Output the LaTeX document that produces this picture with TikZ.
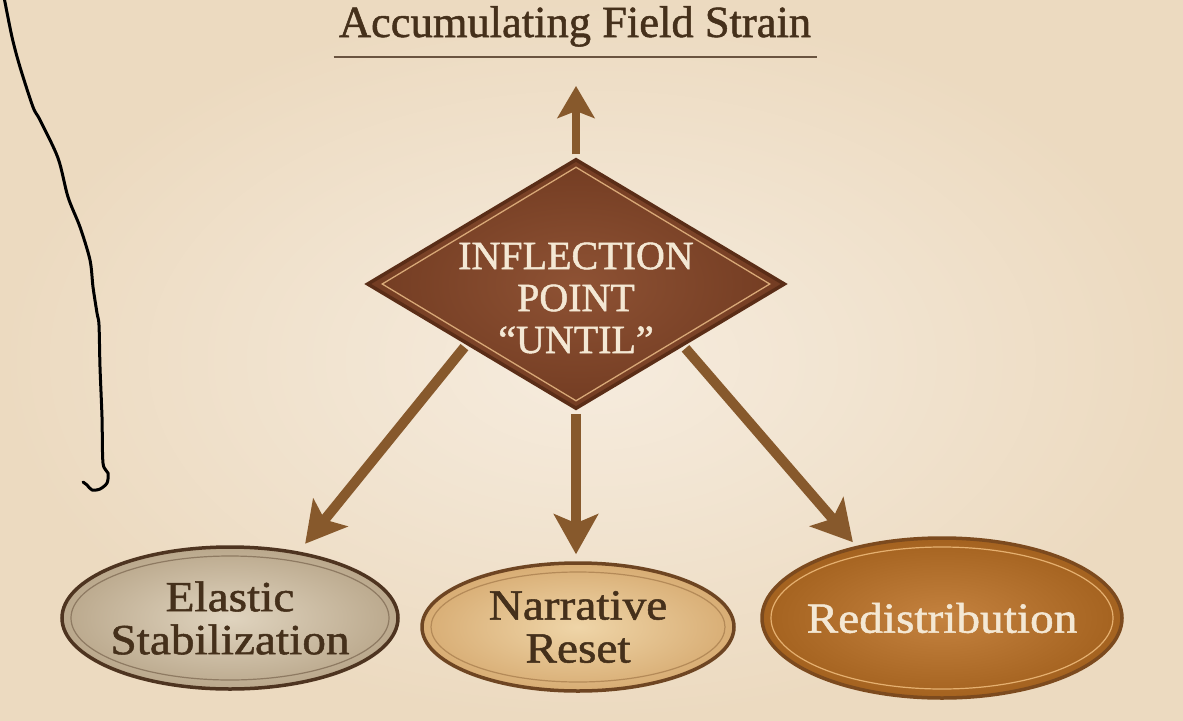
\documentclass[tikz,border=0pt]{standalone}
\usepackage{fontspec}
\setmainfont{Liberation Serif}
\newfontfamily\heavyfont[FakeBold=1.2]{Liberation Serif}
\newfontfamily\ovalfont[FakeStretch=1.1,FakeBold=1.2]{Liberation Serif}
\usetikzlibrary{shapes.geometric,arrows.meta,calc}

\definecolor{paperlight}{HTML}{F6ECDE}
\definecolor{paperdark}{HTML}{ECDAC0}
\definecolor{ink}{HTML}{45301B}
\definecolor{rulecol}{HTML}{6A5440}
\definecolor{cream}{HTML}{F4E8D4}
\definecolor{arrowbrown}{HTML}{87592C}
\definecolor{diacenter}{HTML}{8E5234}
\definecolor{diafill}{HTML}{733C22}
\definecolor{diaedge}{HTML}{5A2D17}
\definecolor{dialine}{HTML}{D8A877}
\definecolor{grayfill}{HTML}{E0D4BF}
\definecolor{grayedge}{HTML}{BAA88C}
\definecolor{grayline}{HTML}{8E7A62}
\definecolor{grayborder}{HTML}{4E3420}
\definecolor{tanfill}{HTML}{EFD5A8}
\definecolor{tanedge}{HTML}{D8AD74}
\definecolor{tanline}{HTML}{B48A58}
\definecolor{tanborder}{HTML}{6E4522}
\definecolor{orangefill}{HTML}{C4823F}
\definecolor{orangeedge}{HTML}{A4621F}
\definecolor{orangeline}{HTML}{E5B070}
\definecolor{orangeborder}{HTML}{7C4A1E}

\begin{document}
\begin{tikzpicture}[x=1pt,y=-1pt,
    flow/.style={draw=arrowbrown, line width=10pt,
      -{Stealth[length=40pt,width=44pt,inset=9pt]}},
    oval/.style={ellipse, shade, line width=3.5pt, inner xsep=-20pt, inner ysep=0pt,
      align=center, font=\ovalfont\fontsize{43pt}{43pt}\selectfont},
    ovalline/.style={line width=1.2pt}]

  \useasboundingbox (0,0) rectangle (1183,720);
  \shade[inner color=paperlight, outer color=paperdark] (0,0) rectangle (1183,720);

  % title
  \node[font=\heavyfont\fontsize{44.5pt}{50pt}\selectfont, text=ink, inner sep=0pt, anchor=base]
    (title) at (575,37) {Accumulating Field Strain};
  \draw[rulecol, line width=1.8pt] ([xshift=-5pt,yshift=-10pt]title.south west)
    -- ([xshift=6pt,yshift=-10pt]title.south east);
  \coordinate (strain) at (576,86);

  % diamond
  \node[diamond, draw=diaedge, line width=3.5pt, shade, inner color=diacenter,
    outer color=diafill, minimum width=418pt, minimum height=250pt, inner sep=0pt]
    (infl) at (576,284) {};
  \draw[dialine, line width=1.3pt] ($(infl.north)+(0,10)$) -- ($(infl.east)+(-17,0)$)
    -- ($(infl.south)+(0,-10)$) -- ($(infl.west)+(17,0)$) -- cycle;
  \node[font=\heavyfont\fontsize{40pt}{42pt}\selectfont, text=cream, align=center, inner sep=0pt]
    (infltext) at (576,298) {INFLECTION\\POINT\\“UNTIL”};

  % outcomes
  \node[oval, draw=grayborder, inner color=grayfill, outer color=grayedge, text=ink,
    minimum width=336pt, minimum height=142pt] (elastic) at (230,618) {Elastic\\Stabilization};
  \node[oval, draw=tanborder, inner color=tanfill, outer color=tanedge, text=ink,
    minimum width=312pt, minimum height=128pt] (narrative) at (578,627) {Narrative\\Reset};
  \node[oval, draw=orangeborder, inner color=orangefill, outer color=orangeedge, text=cream,
    minimum width=360pt, minimum height=160pt] (redis) at (942,618) {Redistribution};

  \draw[ovalline, grayline] (elastic.center) ellipse [x radius=159, y radius=62];
  \draw[ovalline, tanline] (narrative.center) ellipse [x radius=147, y radius=55];
  \draw[ovalline, orangeline] (redis.center) ellipse [x radius=171, y radius=71];

  % arrows
  \draw[flow, line width=8pt, -{Stealth[length=32pt,width=37pt,inset=7pt]},
    shorten <=3pt] (infl.north) -- (strain);
  \draw[flow, shorten <=3pt, shorten >=10pt] (infl.209) -- (elastic.44);
  \draw[flow, shorten <=3pt, shorten >=7pt] (infl.south) -- (infl.south |- narrative.north);
  \draw[flow, shorten <=3pt, shorten >=5pt] (infl.330) -- (redis.140);

  % pen stroke
  \draw[black, line width=3pt, line cap=round, line join=round] plot[smooth, tension=0.5]
    coordinates {(4,-3) (12,37) (20,67) (33,107) (40,120) (58,158) (68,197) (80,227)
    (90,260) (93,287) (97,313) (99,325) (100,367) (102,417) (103,463) (108,473)
    (107,483) (100,489) (92,490) (87,485) (83,482)};
\end{tikzpicture}
\end{document}
